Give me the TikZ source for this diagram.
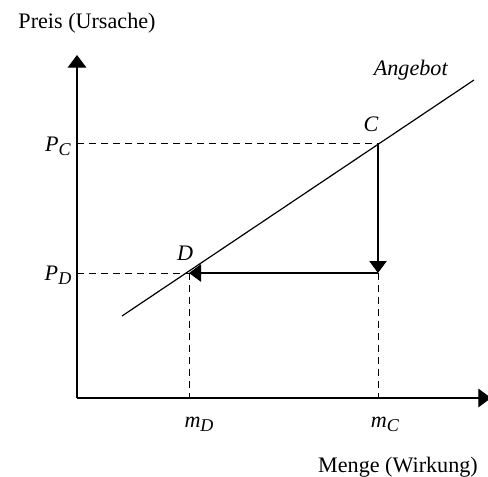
\documentclass[tikz,border=0pt]{standalone}
\usepackage{fontspec}
\setmainfont{Liberation Serif}
\usetikzlibrary{arrows.meta}
\newcommand{\isub}[2]{\textit{#1}\raisebox{-0.4ex}{\fontsize{13.5}{15}\selectfont\textit{#2}}}
\tikzset{
  axis/.style={line width=0.9pt,-{Triangle[length=9.5pt,width=14pt]}},
  guide/.style={line width=0.6pt,dash pattern=on 5.5pt off 3.5pt},
  curve/.style={line width=0.9pt},
  move/.style={line width=0.9pt,-{Triangle[length=9pt,width=13pt]}},
  lbl/.style={font=\fontsize{16.6}{20}\selectfont,inner sep=0pt},
}
\begin{document}
\begin{tikzpicture}[x=0.75pt,y=-0.75pt]
\useasboundingbox (0,0) rectangle (488,477);
\coordinate (O) at (77,398);
\coordinate (Ytip) at (77,55);
\coordinate (Xtip) at (491,398);
\coordinate (S0) at (122,316);
\coordinate (S1) at (474,80);
\coordinate (C) at (378,143);
\coordinate (D) at (189,273);
\coordinate (Cd) at (378,273);
\coordinate (PC) at (77,143);
\coordinate (PD) at (77,273);
\coordinate (mC) at (378,398);
\coordinate (mD) at (189,398);
% guides
\draw[guide] (PC) -- (C);
\draw[guide] (PD) -- (D);
\draw[guide] (D) -- (mD);
\draw[guide] (Cd) -- (mC);
% axes
\draw[axis] (O) -- (Ytip);
\draw[axis] (O) -- (Xtip);
% supply
\draw[curve] (S0) -- (S1);
% moves
\draw[move] (C) -- (Cd);
\draw[move] (Cd) -- (D);
% labels
\node[lbl] (ty) at (87,23) {Preis (Ursache)};
\node[lbl] (tx) at (398,467) {Menge (Wirkung)};
\node[lbl] (ang) at (411,70) {\textit{Angebot}};
\node[lbl] (lC) at (371,124) {\textit{C}};
\node[lbl] (lD) at (185,253) {\textit{D}};
\node[lbl] (lPC) at (58,146) {\isub{P}{C}};
\node[lbl] (lPD) at (58,275) {\isub{P}{D}};
\node[lbl] (lmD) at (199,424) {\isub{m}{D}};
\node[lbl] (lmC) at (385,424) {\isub{m}{C}};
\end{tikzpicture}
\end{document}
